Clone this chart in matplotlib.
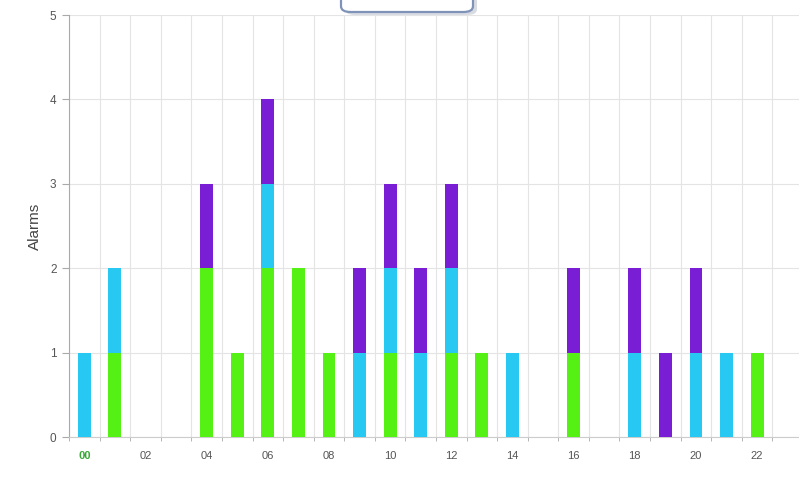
import matplotlib.pyplot as plt
import numpy as np
from matplotlib.patches import FancyBboxPatch

plt.rcParams["font.family"] = ["Liberation Sans", "DejaVu Sans"]

# alarms per hour, stacked: green bottom, cyan middle, purple top
hours = [f"{h:02d}" for h in range(24)]
green  = [0, 1, 0, 0, 2, 1, 2, 2, 1, 0, 1, 0, 1, 1, 0, 0, 1, 0, 0, 0, 0, 0, 1, 0]
cyan   = [1, 1, 0, 0, 0, 0, 1, 0, 0, 1, 1, 1, 1, 0, 1, 0, 0, 0, 1, 0, 1, 1, 0, 0]
purple = [0, 0, 0, 0, 1, 0, 1, 0, 0, 1, 1, 1, 1, 0, 0, 0, 1, 0, 1, 1, 1, 0, 0, 0]
colors = ["#55f014", "#27c9f2", "#7a1ed6"]

x = np.arange(len(hours))
g = np.array(green)
c = np.array(cyan)
p = np.array(purple)

fig = plt.figure(figsize=(7.99, 4.8), dpi=100)
ax = fig.add_axes([69 / 799, 43 / 480, 734 / 799, 422 / 480])

w = 0.42
ax.bar(x, g, w, color=colors[0], zorder=3)
ax.bar(x, c, w, bottom=g, color=colors[1], zorder=3)
ax.bar(x, p, w, bottom=g + c, color=colors[2], zorder=3)

ax.set_xlim(-0.5, 23.5)
ax.set_ylim(0, 5)
ax.set_yticks(range(6))
ax.set_xticks(x[::2], hours[::2])
ax.set_xticks(np.arange(-0.5, 24, 1), minor=True)
ax.tick_params(axis="x", which="major", length=0, pad=10, labelsize=8, colors="#555555")
ax.tick_params(axis="x", which="minor", length=3, color="#aaaaaa")
ax.tick_params(axis="y", length=5, color="#aaaaaa", labelsize=8.5, labelcolor="#555555", pad=4)
ax.get_xticklabels()[0].set_color("#3aa83a")
ax.get_xticklabels()[0].set_fontweight("bold")

ax.grid(axis="x", which="minor", color="#e4e4e4", lw=0.8, zorder=0)
ax.grid(axis="y", which="major", color="#e4e4e4", lw=0.8, zorder=0)
for s in ["top", "right"]:
    ax.spines[s].set_visible(False)
ax.spines["left"].set_color("#aaaaaa")
ax.spines["bottom"].set_color("#cccccc")
ax.set_ylabel("Alarms", fontsize=11, color="#444444", labelpad=6)

# partially visible box at top, with a soft shadow
shadow = FancyBboxPatch((345 / 799, 465 / 480), 132 / 799, 40 / 480,
                        boxstyle="round,pad=0,rounding_size=0.012",
                        transform=fig.transFigure, facecolor="#c8cdd6",
                        edgecolor="none", alpha=0.7, zorder=9)
box = FancyBboxPatch((341 / 799, 468 / 480), 132 / 799, 40 / 480,
                     boxstyle="round,pad=0,rounding_size=0.012",
                     transform=fig.transFigure, facecolor="white",
                     edgecolor="#7f93b8", lw=1.6, zorder=10)
fig.patches.extend([shadow, box])

fig.savefig("out.png", dpi=100)
